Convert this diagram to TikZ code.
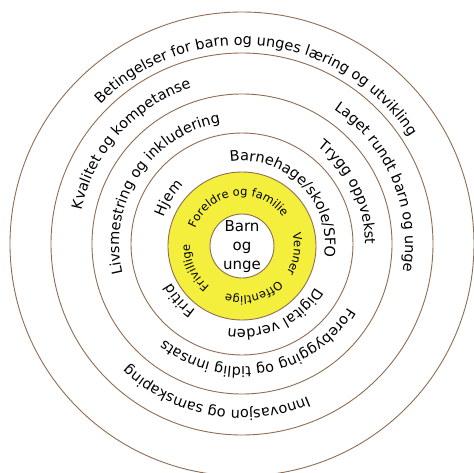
\documentclass[tikz,border=0pt]{standalone}
\usepackage{fontspec}
\setmainfont{DejaVu Sans}
\usetikzlibrary{decorations.text}
\definecolor{ringline}{HTML}{8E6D52}
\definecolor{ringfill}{HTML}{F4EF3C}
\tikzset{
  ring/.style={circle, draw=ringline, line width=0.9pt, inner sep=0pt, outer sep=0pt},
  ringtext/.style n args={4}{decorate, decoration={text along path, text align=center,
      text={|\fontsize{#3}{#3}\selectfont|#4}}},
}
% #1 radius (pt), #2 mid angle, #3 font size, #4 text
\newcommand{\ringlabel}[4]{%
  \path[ringtext={#1}{#2}{#3}{#4}] ({#2+90}:#1pt) arc[start angle={#2+90}, end angle={#2-90}, radius=#1pt];
}
\begin{document}
\begin{tikzpicture}[x=1pt,y=1pt]
\useasboundingbox (-242,-228) rectangle (232,244);
\fill[white] (-242,-228) rectangle (232,244);
\coordinate (C) at (0,0);
\node[ring, minimum size=464pt] (r6) at (C) {};
\node[ring, minimum size=382pt] (r5) at (C) {};
\node[ring, minimum size=300pt] (r4) at (C) {};
\node[ring, minimum size=222pt] (r3) at (C) {};
\node[ring, fill=ringfill, minimum size=148pt] (r2) at (0,-2) {};
\node[ring, fill=white, minimum size=64pt] (r1) at (0,-2) {};
\node[align=center, font=\fontsize{15}{19}\selectfont] (core) at (0,-3) {Barn\\og\\unge};
% outer band
\ringlabel{199}{84}{14.5}{Betingelser for barn og unges læring og utvikling}
% band 150-191
\ringlabel{164}{138}{14.5}{Kvalitet og kompetanse}
\ringlabel{163}{23}{14.5}{Laget rundt barn og unge}
\ringlabel{166}{-100}{14.5}{Innovasjon og samskaping}
% band 111-150
\ringlabel{123}{147}{14.5}{Livsmestring og inkludering}
\ringlabel{123}{26}{14.5}{Trygg oppvekst}
\ringlabel{123}{-80}{14.5}{Forebygging og tidlig innsats}
% band 74-111
\ringlabel{83}{44.5}{14.5}{Barnehage/skole/SFO}
\ringlabel{83}{148}{14.5}{Hjem}
\ringlabel{81}{222}{14.5}{Fritid}
\ringlabel{85}{-65}{14.5}{Digital verden}
% yellow ring
\begin{scope}[shift={(0,-2)}]
\ringlabel{50}{97}{11.5}{Foreldre og familie}
\ringlabel{52}{-8.5}{11.5}{Venner}
\ringlabel{50}{-76}{11.5}{Offentlige}
\ringlabel{52}{205}{11.5}{Frivillige}
\end{scope}
\end{tikzpicture}
\end{document}
